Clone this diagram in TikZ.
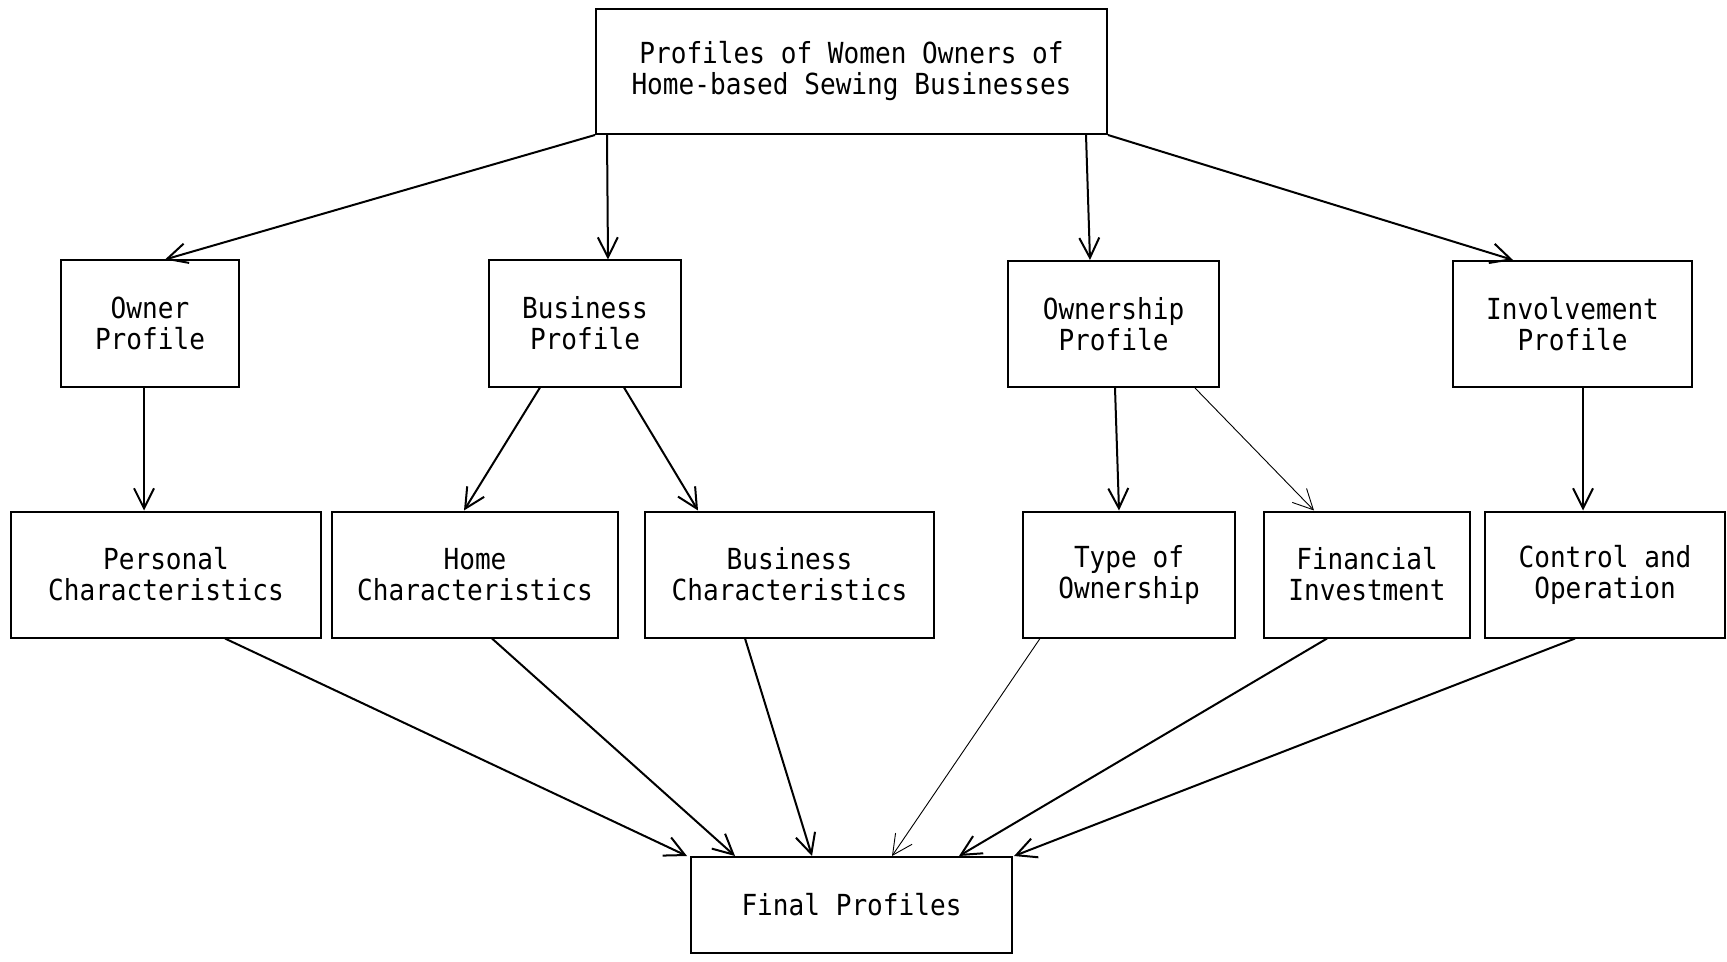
\documentclass[tikz,border=0pt]{standalone}
\usepackage{fontspec}
\setmonofont[FakeStretch=0.9]{DejaVu Sans Mono}
\usepackage{tikz}
\usetikzlibrary{arrows.meta, positioning, calc}

\begin{document}
\begin{tikzpicture}[
  x=0.5pt, y=-0.5pt,
  every node/.style={font=\ttfamily\fontsize{14.5}{15.5}\selectfont},
  box/.style={draw, line width=1pt, minimum height=63pt, align=center, inner sep=0pt},
  arr/.style={-{Straight Barb[length=10pt, width=10pt]}, line width=1pt},
  thinarr/.style={-{Straight Barb[length=10pt, width=10pt]}, line width=0.45pt}
]
  \useasboundingbox (0,0) rectangle (1727,962);
  % top level
  \node[box, minimum width=255.5pt, minimum height=62.5pt] (Top) at (851.5,71.5)
    {Profiles of Women Owners of\\Home-based Sewing Businesses};
  % profiles
  \node[box, minimum width=89pt] (Owner) at (150,323.5) {Owner\\Profile};
  \node[box, minimum width=96pt] (BusProf) at (585,323.5) {Business\\Profile};
  \node[box, minimum width=105.5pt] (OwnProf) at (1113.5,324) {Ownership\\Profile};
  \node[box, minimum width=119.5pt] (InvProf) at (1572.5,324) {Involvement\\Profile};
  % characteristics
  \node[box, minimum width=155pt] (Personal) at (166,574.5) {Personal\\Characteristics};
  \node[box, minimum width=143pt] (Home) at (475,574.5) {Home\\Characteristics};
  \node[box, minimum width=144.5pt] (BusChar) at (789.5,574.5) {Business\\Characteristics};
  \node[box, minimum width=106pt] (Type) at (1129,574.5) {Type of\\Ownership};
  \node[box, minimum width=103pt] (Financial) at (1367,574.5) {Financial\\Investment};
  \node[box, minimum width=120pt] (Control) at (1605,574.5) {Control and\\Operation};
  % result
  \node[box, minimum width=160.5pt, minimum height=48pt] (Final) at (851.5,905) {Final Profiles};

  \draw[arr] (Top.south west) -- ([xshift=7.5pt]Owner.north);
  \draw[arr] ([xshift=6pt]Top.south west) -- ([xshift=11.5pt]BusProf.north);
  \draw[arr] ([xshift=-11pt]Top.south east) -- ([xshift=-11.75pt]OwnProf.north);
  \draw[arr] (Top.south east) -- ([xshift=-29.75pt]InvProf.north);

  \draw[arr] ([xshift=-3pt]Owner.south) -- ([xshift=-11pt]Personal.north);
  \draw[arr] ([xshift=-22.5pt]BusProf.south) -- ([xshift=-5.5pt]Home.north);
  \draw[arr] ([xshift=19.5pt]BusProf.south) -- ([xshift=-45.75pt]BusChar.north);
  \draw[arr] ([xshift=0.75pt]OwnProf.south) -- ([xshift=-5pt]Type.north);
  \draw[thinarr] ([xshift=40.75pt]OwnProf.south) -- ([xshift=-26.5pt]Financial.north);
  \draw[arr] ([xshift=5.25pt]InvProf.south) -- ([xshift=-11pt]Control.north);

  \draw[arr] ([xshift=29.5pt]Personal.south) -- ([xshift=-1.5pt]Final.north west);
  \draw[arr] ([xshift=8.5pt]Home.south) -- ([xshift=22.5pt]Final.north west);
  \draw[arr] ([xshift=-22.25pt]BusChar.south) -- ([xshift=-19.75pt]Final.north);
  \draw[thinarr] ([xshift=-44.5pt]Type.south) -- ([xshift=20.25pt]Final.north);
  \draw[arr] ([xshift=-20pt]Financial.south) -- ([xshift=-27pt]Final.north east);
  \draw[arr] ([xshift=-15pt]Control.south) -- ([xshift=0.5pt]Final.north east);
\end{tikzpicture}
\end{document}
